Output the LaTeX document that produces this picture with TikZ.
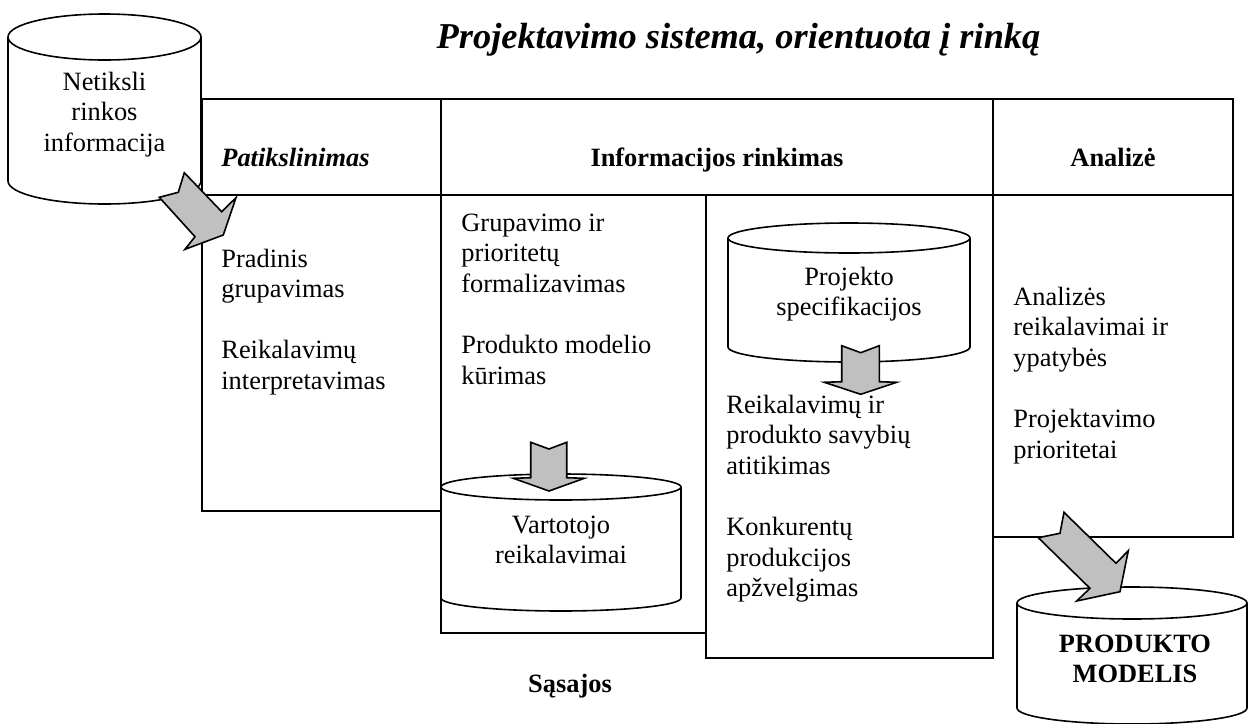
\documentclass[tikz,border=0pt]{standalone}
\usepackage{fontspec}
\setmainfont{Liberation Serif}
\definecolor{arrowgray}{RGB}{192,192,192}
\newcommand\bodyfont{\fontsize{13.2}{15.3}\selectfont}
\newcommand\mylbox[1]{\parbox[t]{300pt}{\raggedright #1}}
\newcommand\mycbox[1]{\parbox[t]{300pt}{\centering #1}}
\newcommand\pargap{\\[15.3pt]}
\tikzset{
  gridline/.style={line width=1pt, line cap=rect},
  cyl/.style={line width=0.8pt, fill=white, draw=black},
  cylrim/.style={line width=0.8pt, draw=black},
  blockarrow/.style={fill=arrowgray, draw=black, line width=0.8pt, line join=miter},
  ltxt/.style={inner sep=0pt, anchor=base west, font=\bodyfont},
  ctxt/.style={inner sep=0pt, anchor=base, font=\bodyfont},
  head/.style={inner sep=0pt, anchor=base, font=\bodyfont\bfseries},
}
\begin{document}
\begin{tikzpicture}[x=0.5pt,y=-0.5pt]
\useasboundingbox (0,0) rectangle (1250,724);

% table grid
\draw[gridline] (202,99) -- (1233,99);
\draw[gridline] (202,195) -- (1233,195);
\draw[gridline] (202,99) -- (202,511) -- (441,511);
\draw[gridline] (441,99) -- (441,633) -- (706,633);
\draw[gridline] (706,195) -- (706,658) -- (993,658);
\draw[gridline] (993,99) -- (993,658);
\draw[gridline] (993,537) -- (1233,537) -- (1233,99);

% cylinders
\draw[cyl] (8,37) -- (8,181) arc[start angle=180,end angle=360,x radius=48.25pt,y radius=11.5pt]
  -- (201,37) arc[start angle=0,end angle=180,x radius=48.25pt,y radius=11.5pt] -- cycle;
\draw[cylrim] (8,37) arc[start angle=180,end angle=360,x radius=48.25pt,y radius=11.5pt];

\draw[cyl] (728,238) -- (728,347) arc[start angle=180,end angle=360,x radius=60.5pt,y radius=7.5pt]
  -- (970,238) arc[start angle=0,end angle=180,x radius=60.5pt,y radius=7.5pt] -- cycle;
\draw[cylrim] (728,238) arc[start angle=180,end angle=360,x radius=60.5pt,y radius=7.5pt];

\draw[cyl] (441,487) -- (441,598) arc[start angle=180,end angle=360,x radius=60pt,y radius=6.5pt]
  -- (681,487) arc[start angle=0,end angle=180,x radius=60pt,y radius=6.5pt] -- cycle;
\draw[cylrim] (441,487) arc[start angle=180,end angle=360,x radius=60pt,y radius=6.5pt];

\draw[cyl] (1017,603) -- (1017,708) arc[start angle=180,end angle=360,x radius=57.5pt,y radius=8pt]
  -- (1247,603) arc[start angle=0,end angle=180,x radius=57.5pt,y radius=8pt] -- cycle;
\draw[cylrim] (1017,603) arc[start angle=180,end angle=360,x radius=57.5pt,y radius=8pt];

% block arrows
\draw[blockarrow] (159.3,197.3) -- (178.3,192.3) -- (184.3,172.7) -- (221.7,211.7) -- (236,197.7)
  -- (223.3,235) -- (185,249.3) -- (195,236.7) -- cycle;
\draw[blockarrow] (1038.3,537.7) -- (1060,533.3) -- (1064,512.3) -- (1116,563.3) -- (1128.3,550.7)
  -- (1120,591.7) -- (1076.7,601) -- (1090,588.3) -- cycle;
\draw[blockarrow] (530.7,442.3) -- (549,449) -- (566.7,442.3) -- (566.7,477.7) -- (584.3,478.3)
  -- (549,491) -- (513.3,478.3) -- (530.7,477.7) -- cycle;
\draw[blockarrow] (841.7,345.7) -- (860.7,352.7) -- (879.3,345.7) -- (879.3,381.7) -- (896.7,382.3)
  -- (860.7,394.3) -- (824.3,382.3) -- (841.7,381.7) -- cycle;

% title
\node[inner sep=0pt, anchor=base, font=\fontsize{18.2}{21}\selectfont\bfseries\itshape] (title) at (738.5,48)
  {Projektavimo sistema, orientuota į rinką};

% headers
\node[ltxt, font=\bodyfont\bfseries\itshape] (hpat) at (221,166) {Patikslinimas};
\node[head] (hinf) at (717,166) {Informacijos rinkimas};
\node[head] (hana) at (1113,166) {Analizė};
\node[head] (sasajos) at (570,692) {Sąsajos};

% cylinder texts
\node[ctxt] (netiksli) at (104.5,90) {\mycbox{Netiksli\\rinkos\\informacija}};
\node[ctxt] (projekto) at (849,285) {\mycbox{Projekto\\specifikacijos}};
\node[ctxt] (vartotojo) at (561,533) {\mycbox{Vartotojo\\reikalavimai}};
\node[head] (produkto) at (1135,652) {\mycbox{PRODUKTO\\MODELIS}};

% column texts
\node[ltxt] (col1) at (221,267) {\mylbox{Pradinis\\grupavimas\pargap Reikalavimų\\interpretavimas}};
\node[ltxt] (col2) at (461,231) {\mylbox{Grupavimo ir\\prioritetų\\formalizavimas\pargap Produkto modelio\\kūrimas}};
\node[ltxt] (col3) at (726,413) {\mylbox{Reikalavimų ir\\produkto savybių\\atitikimas\pargap Konkurentų\\produkcijos\\apžvelgimas}};
\node[ltxt] (col4) at (1013,305) {\mylbox{Analizės\\reikalavimai ir\\ypatybės\pargap Projektavimo\\prioritetai}};
\end{tikzpicture}
\end{document}
